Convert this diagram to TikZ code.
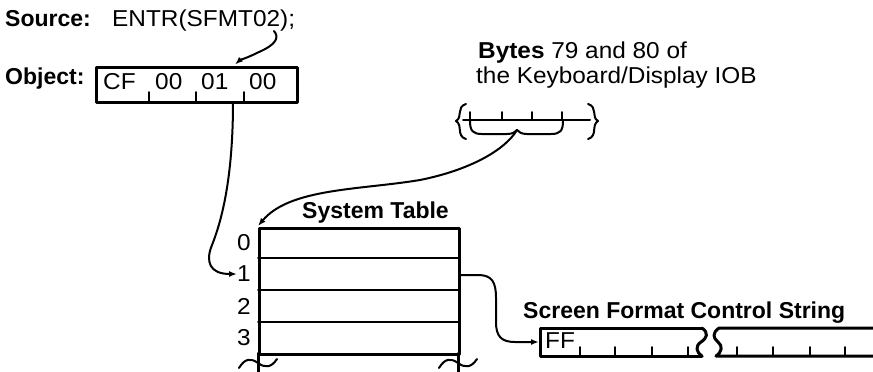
\documentclass[tikz,border=0pt]{standalone}
\usepackage{fontspec}
\setmainfont{Liberation Sans}
\newfontfamily\regf[FakeStretch=1.06]{Liberation Sans}
\usetikzlibrary{arrows.meta}
\begin{document}
\begin{tikzpicture}[x=1pt,y=-1pt,line join=round,line cap=round,
  lbl/.style={inner sep=0pt,anchor=base west,font=\fontsize{23}{27}\regf},
  bld/.style={inner sep=0pt,anchor=base west,font=\fontsize{23}{27}\selectfont\bfseries},
  num/.style={inner sep=0pt,anchor=center,font=\fontsize{23}{27}\regf},
  frame/.style={line width=3pt},
  rowline/.style={line width=2pt},
  tick/.style={line width=1.7pt},
  conn/.style={line width=2pt,-{Latex[length=8pt,width=6pt]}},
  plain/.style={line width=2pt}]
\useasboundingbox (0,0) rectangle (873,372);
% --- source / object ---
\node[bld] (src) at (5,26) {Source:};
\node[lbl] (expr) at (112,26) {ENTR(SFMT02);};
\node[bld] (obj) at (5,84) {Object:};
\node[draw,frame,anchor=north west,minimum width=201pt,minimum height=35pt,inner sep=0pt] (box) at (95,66) {};
\node[lbl] (cf) at (103,89) {CF};
\node[lbl] (b1) at (155,89) {00};
\node[lbl] (b2) at (201,89) {01};
\node[lbl] (b3) at (249,89) {00};
\foreach \x in {149,196,244} \draw[tick] (\x,101) -- (\x,92);
\coordinate (srcpt) at (274,31);
\coordinate (boxtop) at (235,64.5);
\draw[conn] (srcpt) .. controls (280,38) and (275,45) .. (259,52) .. controls (247,58) and (240,60) .. (boxtop);
% --- bytes 79/80 ---
\node[lbl] (bytes) at (478,58) {\textbf{Bytes} 79 and 80 of};
\node[lbl] (kb) at (476,83) {the Keyboard/Display IOB};
\draw[plain] (463,120) -- (590,120);
\foreach \x in {470,502,532,562} \draw[tick] (\x,120) -- (\x,112);
\draw[plain] (466,104) .. controls (456,107) and (463,117) .. (456,121) .. controls (463,125) and (456,136) .. (466,139);
\draw[plain] (588,104) .. controls (598,107) and (591,117) .. (598,121) .. controls (591,125) and (598,136) .. (588,139);
\coordinate (bc) at (517,130);
\draw[plain] (470,121) .. controls (470,131) and (473,134) .. (482,134) -- (507,134) .. controls (513,134) and (515,132) .. (bc);
\draw[plain] (563,121) .. controls (563,131) and (560,134) .. (551,134) -- (527,134) .. controls (521,134) and (519,132) .. (bc);
% --- system table ---
\node[bld] (stt) at (302,218) {System Table};
\node[draw,frame,anchor=north west,minimum width=200pt,minimum height=126pt,inner sep=0pt] (tab) at (258,227) {};
\foreach \y in {258,290,322} \draw[rowline] (258,\y) -- (458,\y);
\draw[frame] (258,353) -- (258,372);
\draw[frame] (458,353) -- (458,372);
\draw[plain] (239,368) .. controls (245,358) and (251,358) .. (258,363) .. controls (265,368) and (271,368) .. (277,359);
\draw[plain] (439,368) .. controls (445,358) and (451,358) .. (458,363) .. controls (465,368) and (471,368) .. (477,359);
\node[num] (r0) at (244,243) {0};
\node[num] (r1) at (244,274) {1};
\node[num] (r2) at (244,306) {2};
\node[num] (r3) at (244,338) {3};
\coordinate (tabcorner) at (258,226);
\draw[conn] (bc) .. controls (505,150) and (470,170) .. (420,180) .. controls (360,190) and (290,188) .. (tabcorner);
\coordinate (boxbot) at (233,102);
\draw[conn] (boxbot) .. controls (233,170) and (224,215) .. (212,245) .. controls (205,262) and (210,274) .. (r1.west);
% --- screen format control string ---
\node[bld] (sfl) at (523,318) {Screen Format Control String};
\coordinate (sfcs) at (539,342);
\draw[frame] (702,328) -- (540,328) -- (540,356) -- (702,356);
\draw[frame] (702,328) .. controls (709,333) and (707,338) .. (701,342) .. controls (695,346) and (696,352) .. (702,356);
\draw[frame] (873,328) -- (719,328) .. controls (712,333) and (713,338) .. (718,342) .. controls (723,346) and (722,352) .. (716,356) -- (873,356);
\node[lbl] (ff) at (545,348) {FF};
\foreach \x in {580,615,652,688,737,773,810,845} \draw[tick] (\x,356) -- (\x,347);
\coordinate (rowone) at (459,275);
\draw[conn] (rowone) -- (478,275) .. controls (492,275) and (496,282) .. (496,298) -- (496,322) .. controls (496,336) and (501,342) .. (515,342) -- (sfcs);
\end{tikzpicture}
\end{document}
